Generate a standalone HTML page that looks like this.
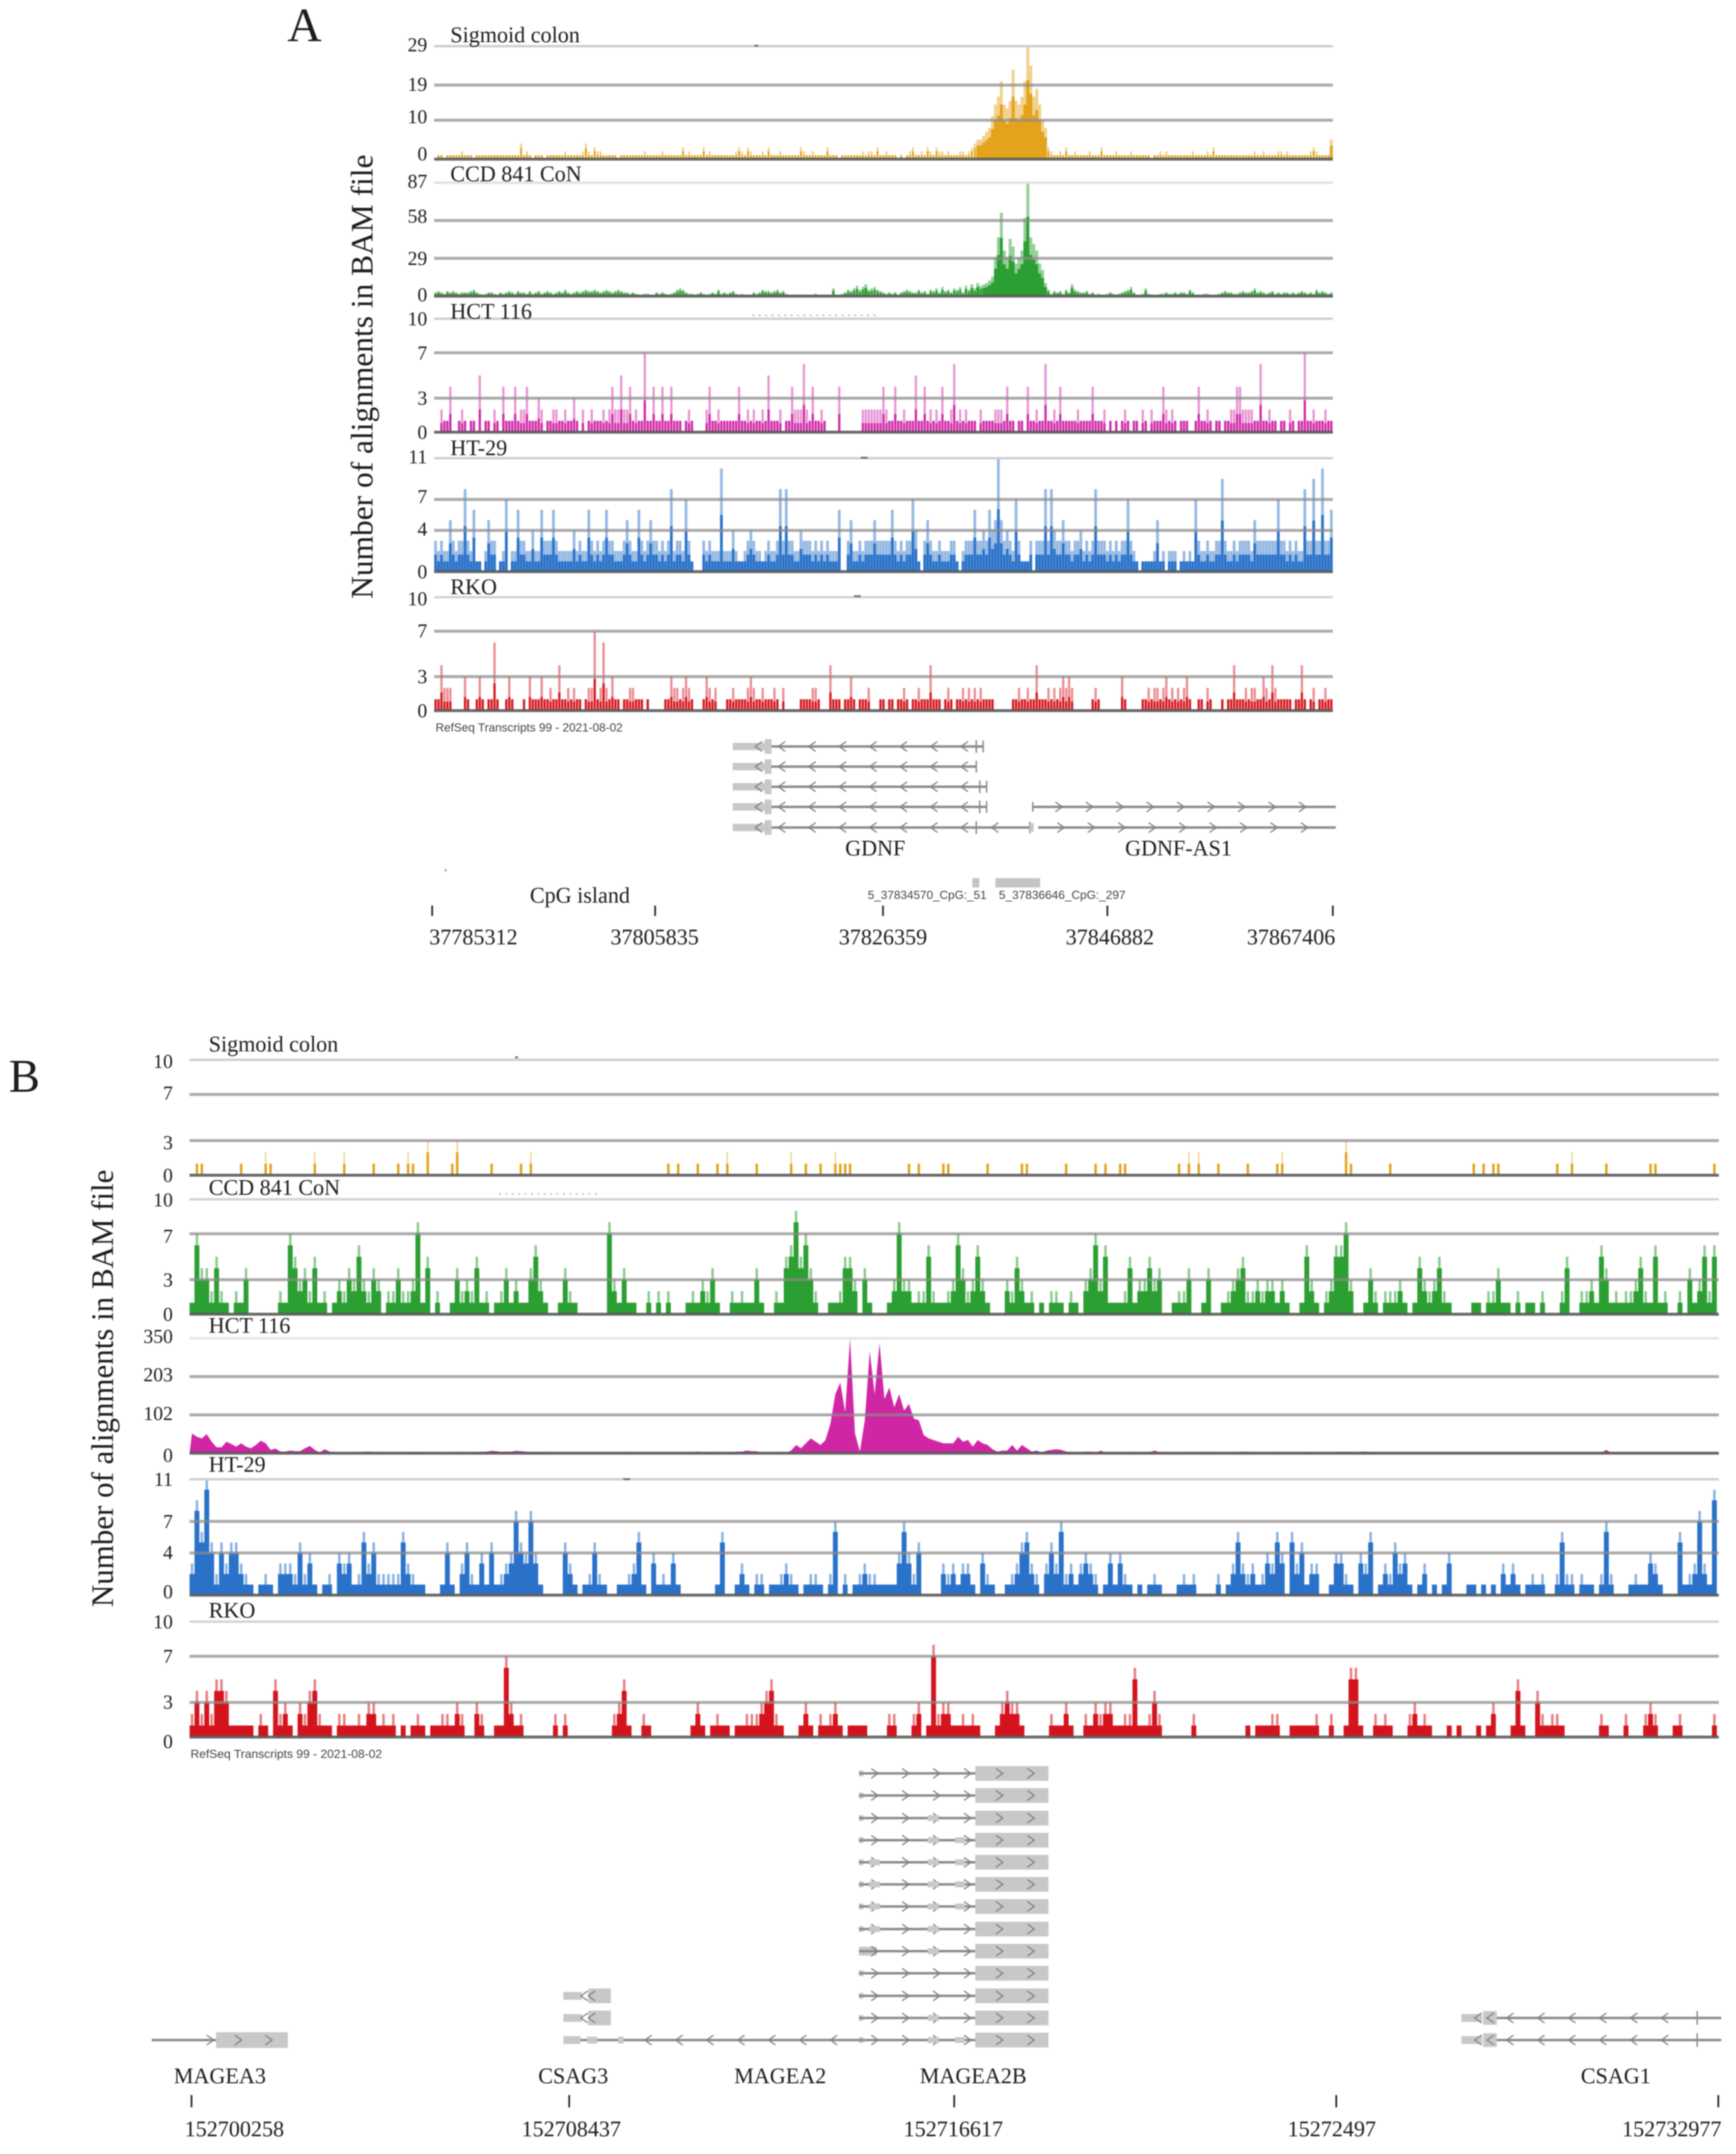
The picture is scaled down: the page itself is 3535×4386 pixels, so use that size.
<!DOCTYPE html>
<html lang="en">
<head>
<meta charset="utf-8">
<title>BAM alignment coverage at GDNF and MAGEA2 loci</title>
<style>
html,body{margin:0;padding:0;background:#fff;}
#figure{display:block;width:3535px;height:4386px;filter:blur(1.4px);background:#fff;}
text{font-family:"Liberation Serif",serif;fill:#1c1c1c;}
.sans{font-family:"Liberation Sans",sans-serif;fill:#444;}
</style>
</head>
<body>
<svg id="figure" xmlns="http://www.w3.org/2000/svg" width="3535" height="4386" viewBox="0 0 3535 4386">
  <text x="585" y="84" font-size="97">A</text>
  <text x="18" y="2223" font-size="95">B</text>
  <text x="737" y="767" font-size="64" text-anchor="middle" dominant-baseline="central" transform="rotate(-90 737 767)">Number of alignments in BAM file</text>
  <text x="209" y="2827" font-size="63" text-anchor="middle" dominant-baseline="central" transform="rotate(-90 209 2827)">Number of alignments in BAM file</text>
  <text class="sans" x="887" y="1482" font-size="24" dominant-baseline="central" textLength="381" lengthAdjust="spacingAndGlyphs">RefSeq Transcripts 99 - 2021-08-02</text>
  <text class="sans" x="388" y="3572" font-size="24" dominant-baseline="central" textLength="390" lengthAdjust="spacingAndGlyphs">RefSeq Transcripts 99 - 2021-08-02</text>
  <text x="1721" y="1727" font-size="45" dominant-baseline="central">GDNF</text>
  <text x="2291" y="1727" font-size="45" dominant-baseline="central">GDNF-AS1</text>
  <text x="1079" y="1823" font-size="45" dominant-baseline="central">CpG island</text>
  <rect x="1980" y="1788" width="14" height="19" fill="#c4c4c4"/>
  <rect x="2027" y="1788" width="91" height="19" fill="#c4c4c4"/>
  <text class="sans" x="1767" y="1823" font-size="24" dominant-baseline="central" textLength="242" lengthAdjust="spacingAndGlyphs">5_37834570_CpG:_51</text>
  <text class="sans" x="2034" y="1823" font-size="24" dominant-baseline="central" textLength="258" lengthAdjust="spacingAndGlyphs">5_37836646_CpG:_297</text>
  <text x="354" y="4227" font-size="45" dominant-baseline="central">MAGEA3</text>
  <text x="1096" y="4227" font-size="45" dominant-baseline="central">CSAG3</text>
  <text x="1495" y="4227" font-size="45" dominant-baseline="central">MAGEA2</text>
  <text x="1873" y="4227" font-size="45" dominant-baseline="central">MAGEA2B</text>
  <text x="3219" y="4227" font-size="45" dominant-baseline="central">CSAG1</text>
  <g id="tracks"></g>
  <g id="genes"></g>
  <g id="coords"></g>
</svg>
<script>
// ---------- Panel A data (one value per genomic bin) ----------
const sigmoidAValues = [
0,1,1,0,1,1,1,1,1,2, 1,1,1,0,1,1,1,1,1,1, 1,1,1,1,1,1,1,1,1,4, 1,2,1,0,1,1,1,0,1,1,
1,1,1,1,2,1,1,1,1,1, 2,4,2,1,3,2,2,1,1,1, 1,1,0,1,1,1,1,1,1,1, 1,2,1,1,1,1,1,2,1,1,
1,1,1,1,3,1,2,1,1,1, 1,3,1,2,1,1,1,1,1,1, 1,1,2,3,2,1,3,2,1,1, 1,2,1,3,1,1,1,2,1,1,
1,1,1,1,3,2,1,1,2,1, 1,1,1,3,1,1,1,0,1,1, 1,1,1,1,1,2,1,2,2,1, 3,1,1,2,1,1,1,0,1,0,
1,2,3,1,1,2,1,3,2,1, 3,2,2,1,2,1,1,1,2,2, 1,2,3,4,5,5,6,7,8,11, 14,16,20,14,13,15,23,15,14,16,
20,29,24,16,18,14,10,8,3,2, 1,1,2,1,3,1,1,2,1,1, 1,1,2,1,1,1,3,1,1,1, 1,2,1,1,1,1,2,1,1,1,
1,1,1,0,1,1,2,1,2,1, 1,1,1,1,1,1,1,2,1,1, 1,1,2,1,3,1,1,1,1,1, 1,1,1,1,1,1,1,1,2,1,
1,2,1,1,1,1,2,2,1,2, 1,1,1,1,1,1,1,2,3,2, 1,1,1,1,5];
const ccdAValues = [
3,4,3,2,4,3,4,3,2,3, 3,3,4,5,3,2,1,2,3,3, 2,1,3,2,3,4,3,2,4,3, 3,2,4,2,3,4,2,3,4,3,
2,3,4,3,5,3,2,3,4,3, 4,5,4,4,5,4,3,4,5,4, 3,4,5,4,3,3,2,3,2,1, 1,2,2,1,1,3,2,3,2,1,
2,3,5,6,5,3,2,2,1,2, 3,2,1,2,3,2,5,2,3,2, 3,4,2,1,2,1,1,1,3,2, 3,5,4,4,3,4,5,3,4,2,
1,1,1,1,1,1,1,1,1,2, 1,1,1,1,1,6,1,1,2,3, 5,4,6,8,5,7,9,5,6,7, 5,4,3,2,3,2,3,1,3,4,
5,4,3,3,5,3,4,2,5,4, 6,3,7,4,5,3,6,5,7,3, 8,5,9,6,10,8,9,10,12,15, 30,45,64,35,30,44,38,25,30,35,
60,87,45,40,35,25,20,10,5,2, 4,3,4,2,5,3,9,5,4,3, 3,4,2,3,1,2,1,1,2,3, 2,1,2,3,4,5,7,3,1,0,
2,6,2,1,0,1,2,2,3,2, 2,3,2,3,3,2,5,3,1,1, 1,2,2,1,0,1,2,3,4,3, 3,2,2,3,4,3,3,4,6,3,
4,3,2,3,4,2,3,2,3,3, 2,3,2,3,4,3,2,3,2,5, 3,4,3,2,3];
const hctAValues = [
0,0,2,1,1,4,0,0,1,2, 1,0,1,1,0,5,0,1,1,0, 2,1,0,4,1,1,1,4,1,2, 2,4,1,1,1,3,2,0,1,1,
2,2,1,1,2,1,1,3,1,0, 2,0,1,2,1,1,1,2,1,2, 4,2,2,5,2,2,4,1,2,1, 1,7,1,1,4,1,1,4,1,1,
4,1,1,1,0,1,2,1,0,0, 0,0,2,4,1,1,2,1,1,1, 1,1,1,4,1,1,2,1,2,1, 1,2,1,5,1,1,1,2,0,1,
1,4,2,2,2,6,2,1,4,1, 1,2,1,0,0,0,0,4,0,0, 0,0,0,0,0,2,2,2,2,2, 2,2,4,2,1,1,4,1,1,2,
1,1,1,5,1,1,4,1,2,1, 2,1,4,1,1,2,6,1,2,1, 2,1,1,1,0,2,1,1,1,1, 2,2,2,1,4,1,1,0,1,1,
0,4,1,1,2,1,1,6,1,1, 2,1,4,1,1,1,1,1,2,1, 1,1,1,4,1,1,1,2,0,1, 0,1,0,1,2,1,0,1,1,0,
2,1,0,2,1,1,1,4,2,1, 2,1,0,1,1,1,0,0,1,4, 1,1,2,1,0,1,1,0,1,1, 2,2,4,4,2,2,2,2,1,1,
6,1,1,2,1,1,0,1,1,0, 2,1,0,1,1,7,1,1,2,1, 1,1,2,1,1];
const htAValues = [
3,2,3,2,2,5,3,2,3,3, 8,3,2,6,1,1,0,2,5,3, 3,0,1,2,7,0,2,2,6,3, 3,2,2,4,2,2,6,3,3,3,
6,3,2,2,2,2,2,4,2,3, 2,2,6,3,2,3,2,3,6,3, 3,2,2,2,3,5,3,2,2,6, 3,2,3,5,3,3,2,3,2,3,
8,2,3,3,2,7,3,1,0,0, 0,3,2,3,2,2,2,10,2,2, 2,4,2,1,1,2,3,4,3,2, 2,1,2,3,2,2,3,8,3,8,
3,3,2,2,4,3,3,3,2,3, 2,3,2,3,2,2,2,6,0,0, 3,5,2,2,3,2,3,3,3,5, 3,3,3,3,3,6,3,2,3,2,
3,3,7,4,1,0,3,5,3,2, 2,3,2,2,2,3,3,1,0,2, 3,3,3,6,3,3,4,3,6,4, 5,11,5,3,4,3,2,7,3,1,
1,1,3,0,3,3,3,8,3,8, 4,3,3,5,3,3,2,3,3,4, 2,3,2,3,8,3,3,3,2,3, 2,3,2,3,3,7,3,2,1,0,
1,1,1,1,2,5,1,2,0,2, 2,2,0,1,2,1,2,1,7,3, 2,2,3,2,2,3,3,9,3,2, 2,3,2,3,3,3,3,2,5,3,
3,3,3,3,3,3,7,3,3,2, 3,2,3,2,2,8,3,3,9,3, 3,10,3,3,6];
const rkoAValues = [
1,1,4,2,2,2,0,0,0,0, 3,1,0,0,1,3,1,0,1,1, 6,1,0,0,1,3,1,0,0,0, 1,0,3,1,1,1,3,1,1,2,
1,1,4,1,1,2,1,2,1,1, 0,1,2,2,7,1,2,6,2,1, 3,1,1,0,1,1,2,2,1,1, 1,0,1,0,0,0,0,0,1,1,
3,2,2,1,2,3,2,1,0,0, 0,1,3,2,1,2,0,0,0,1, 1,2,1,1,1,1,2,3,2,1, 1,2,1,1,1,2,1,0,2,0,
0,0,0,0,1,1,1,1,2,2, 1,0,0,0,4,1,1,1,0,1, 1,3,1,0,1,1,1,2,0,0, 0,1,1,0,1,1,0,1,1,2,
1,0,1,1,2,1,1,1,4,1, 1,1,0,1,2,1,0,1,1,2, 1,2,1,2,1,2,1,1,1,1, 0,0,0,0,0,0,1,1,2,1,
1,2,1,1,4,1,1,1,2,1, 2,1,2,3,2,3,2,0,0,0, 0,0,0,1,2,1,0,0,0,0, 0,0,0,3,1,0,0,0,0,0,
1,1,2,1,2,2,1,2,3,1, 2,1,2,1,2,3,1,0,0,1, 1,0,2,1,0,0,0,1,0,1, 1,4,1,1,1,2,1,2,2,1,
1,3,2,1,4,2,1,1,1,1, 1,0,1,1,4,1,0,1,2,0, 1,1,2,1,1];

// ---------- Panel B data (one value per genomic bin) ----------
const sigmoidBValues = [
0,1,1,0,0,0,0,0,0,0, 1,0,0,0,0,2,1,0,0,0, 0,0,0,0,0,2,0,0,0,0, 0,2,0,0,0,0,0,1,0,0,
0,0,1,0,2,1,0,0,3,0, 0,0,0,1,3,0,0,0,0,0, 0,1,0,0,0,0,0,1,0,2, 0,0,0,0,0,0,0,0,0,0,
0,0,0,0,0,0,0,0,0,0, 0,0,0,0,0,0,0,1,0,1, 0,0,0,1,0,0,0,1,0,2, 0,0,0,0,0,1,0,0,0,0,
0,0,2,0,0,1,0,0,1,0, 0,2,1,1,1,0,0,0,0,0, 0,0,0,0,0,0,1,0,1,0, 0,0,0,1,1,0,0,0,0,0,
0,0,1,0,0,0,0,0,0,1, 1,0,0,0,0,0,0,0,1,0, 0,0,0,0,1,0,1,0,0,1, 1,0,0,0,0,0,0,0,0,0,
0,1,0,2,0,2,0,0,0,1, 0,0,0,0,0,1,0,0,0,0, 0,1,2,0,0,0,0,0,0,0, 0,0,0,0,0,3,1,0,0,0,
0,0,0,0,1,0,0,0,0,0, 0,0,0,0,0,0,0,0,0,0, 0,1,0,1,0,1,1,0,0,0, 0,0,0,0,0,0,0,0,1,0,
0,2,0,0,0,0,0,0,1,0, 0,0,0,0,0,0,0,1,1,0, 0,0,0,0,0,0,0,0,0,0,1];
const ccdBValues = [
1,7,4,4,2,5,2,1,0,2, 1,4,0,0,0,0,0,0,2,1, 7,5,3,4,2,5,1,2,0,1, 3,2,4,3,6,3,2,4,3,0,
2,2,4,2,2,3,8,1,5,0, 2,0,0,1,4,2,3,2,5,1, 2,0,1,2,4,1,3,1,1,4, 6,3,1,0,0,1,4,2,1,0,
0,0,0,0,0,8,3,1,4,1, 1,0,0,2,0,2,0,2,0,0, 0,1,2,1,3,2,4,1,0,0, 2,1,2,1,1,4,1,0,0,2,
1,5,6,9,5,7,4,2,0,0, 1,1,2,5,5,3,0,4,1,0, 0,0,1,3,8,3,3,1,2,2, 6,2,1,1,2,3,7,4,2,3,
6,3,1,0,0,0,3,2,5,3, 1,2,0,1,0,2,2,1,0,2, 1,0,3,4,7,3,6,1,1,1, 2,5,1,3,3,5,3,4,0,0,
1,2,2,4,0,0,1,4,0,0, 1,2,3,4,5,2,2,3,2,3, 3,1,3,1,0,0,1,6,3,1, 0,2,3,6,6,8,3,0,0,1,
4,2,0,2,2,2,3,1,0,1, 5,3,2,3,5,2,1,0,0,0, 0,1,1,0,2,2,4,1,1,0, 2,0,1,1,0,2,0,0,0,2,
5,0,0,2,2,3,1,6,4,1, 2,1,2,2,3,5,2,1,6,1, 2,0,0,2,0,4,1,3,6,2,6];
const hctBValues = [
60,50,45,58,35,18,18,35,28,20, 30,20,15,25,38,30,10,14,5,5, 8,6,6,15,22,10,2,12,5,0,
0,0,0,0,1,4,5,2,3,1, 2,1,0,1,2,2,2,3,1,1, 0,0,0,1,2,2,1,2,3,4, 5,7,6,4,5,5,7,6,5,2,
3,2,2,2,1,1,1,2,1,1, 1,1,1,1,1,1,1,1,1,3, 1,1,1,1,1,1,1,1,1,1, 1,1,
3,5,2,2,2,2,1,1,3,5, 5,8,6,6,1,0,0,1,3,1, 8,25,15,30,45,35,25,40,90,180,
215,125,350,60,5,100,310,180,335,165, 200,140,180,130,150,105,100,55,45,40,
35,30,30,30,50,35,40,20,40,30, 25,12,5,8,8,25,8,25,15,5, 8,2,8,10,12,10,5,3,0,0,
5,5,0,8,2,0,0,1,1,1, 3,1,1,3,8,3,0,0,0,0, 0,1,1,1,1,4,1,1,1,1,1, 3,5,4,2,1,1,1,1,3,
1,1,0,1,1,4,1,1,1,1,1, 2,4,4,3,1,5,5,3,
1,1,1,1,1,1,1,1,1,1, 1,1,1,1,1,1,1,1,1,1, 1,1,1,1,1,1,1,1,1,1, 1,1,1,1,1,1,1,1,1,1, 1,1,1,1,1,1,1,
10, 1,1,1,1,1,1,1,1,1,1, 1,1,1,1,1,1,1,1,1,1, 1,1];
const htBValues = [
3,9,6,11,5,2,5,3,5,5, 3,2,1,0,1,2,1,0,3,3, 3,2,5,2,4,1,0,1,2,0, 4,3,4,1,2,6,3,5,2,2,
2,2,2,6,3,2,1,1,0,0, 0,1,5,1,0,3,5,2,1,4, 1,5,1,2,3,4,8,5,4,8, 4,1,0,0,0,0,5,3,1,0,
1,2,5,2,1,0,0,1,1,2, 3,6,1,0,4,1,2,1,4,1, 0,0,0,0,0,0,0,1,6,0, 0,1,3,1,0,2,2,0,1,1,
2,3,2,1,0,1,2,2,1,0, 2,7,0,2,0,1,2,3,2,2, 1,1,1,1,4,7,4,2,5,0, 0,0,0,3,2,3,
1,3,3,1,0,4,2,1,0,0, 1,2,3,5,6,3,2,0,3,5, 3,7,2,3,1,3,4,3,2,0, 1,4,1,4,2,1,0,1,0,1,
2,1,0,0,0,1,2,1,2,0, 0,0,0,2,0,1,3,6,3,2, 3,1,2,4,3,6,4,0,6,3, 5,1,3,3,0,0,1,4,4,2,
1,0,4,3,6,0,1,3,2,5, 3,4,1,0,1,3,0,1,0,1, 4,0,0,0,1,1,0,1,0,1, 0,3,1,3,1,0,1,2,1,2,
0,0,2,6,2,2,0,2,1,1, 0,2,7,2,0,0,0,1,2,1, 1,4,3,1,0,0,0,6,1,2, 3,8,3,1,10];
const rkoBValues = [
2,4,2,4,2,5,5,4,1,1, 1,1,1,0,2,1,0,5,2,3, 1,0,3,2,4,5,2,1,1,0, 2,2,1,1,2,1,3,3,1,2,
1,2,0,1,0,1,2,1,0,1, 1,2,2,1,3,2,0,0,3,2, 0,0,1,1,7,3,1,2,0,0, 0,0,0,0,2,0,2,0,0,0,
0,0,0,0,0,0,2,3,5,1, 0,0,2,1,0,0,0,0,0,0, 0,0,1,3,1,0,1,2,1,1, 0,1,1,2,2,2,3,4,5,2,
1,0,0,0,1,3,1,0,2,1, 2,3,1,0,1,1,1,1,0,0, 0,0,2,2,0,0,0,2,3,0, 1,8,2,3,3,1,
1,2,1,2,1,0,0,0,1,3, 4,3,3,1,0,0,0,0,0,2, 1,1,3,1,0,0,2,1,3,2, 3,3,1,1,2,2,6,1,1,2,
4,2,0,0,0,0,0,0,2,0, 0,0,0,0,0,0,0,0,0,1, 0,1,1,1,2,2,0,0,1,1, 1,1,1,2,0,0,2,0,0,1,
6,6,1,0,0,2,1,2,1,0, 0,0,2,3,1,2,1,0,0,0, 1,0,1,0,0,0,1,0,1,3, 0,0,0,1,5,1,0,0,4,2,
1,2,2,1,0,0,0,0,0,0, 0,2,1,0,0,0,2,0,0,0, 2,3,2,0,0,0,1,2,0,0, 0,0,0,0,2];

// ---------- Axis tick values and labels ----------
const sigmoidATicks = [29, 19, 10, 0];
const ccdATicks = [87, 58, 29, 0];
const hctATicks = [10, 7, 3, 0];
const htATicks = [11, 7, 4, 0];
const rkoATicks = [10, 7, 3, 0];
const sigmoidBTicks = [10, 7, 3, 0];
const ccdBTicks = [10, 7, 3, 0];
const hctBTicks = [350, 203, 102, 0];
const htBTicks = [11, 7, 4, 0];
const rkoBTicks = [10, 7, 3, 0];
const coordLabelsA = ['37785312', '37805835', '37826359', '37846882', '37867406'];
const coordLabelsB = ['152700258', '152708437', '152716617', '15272497', '152732977'];

// ---------- Layout (pixels and styles, separate from the data) ----------
const NS = 'http://www.w3.org/2000/svg';
const panelA = { x0: 884, x1: 2714, bin: 6, labelRight: 870, nameX: 917 };
const panelB = { x0: 386, x1: 3500, bin: 10, labelRight: 352, nameX: 425 };
const GOLD = '#e3a31c', GREEN = '#2c9f33', MAGENTA = '#d026a6', BLUE = '#2a72c9', RED = '#d3141d';
const tracks = [
  { key:'sigmoid-a', name:'Sigmoid colon', panel:panelA, top:94, base:324, values:sigmoidAValues, ticks:sigmoidATicks, color:GOLD, barW:4, wideFrom:5, frac:.3, tipW:1, tipO:.5, nameY:71, labelDy:[-3,-2,-7,-11], topLine:'#cfcfcf' },
  { key:'ccd-a', name:'CCD 841 CoN', panel:panelA, top:372, base:603, values:ccdAValues, ticks:ccdATicks, color:GREEN, barW:5, wideFrom:9, frac:.3, tipW:1, tipO:.5, nameY:354, labelDy:[-3,-9,0,-3], topLine:'#e2e2e2' },
  { key:'hct-a', name:'HCT 116', panel:panelA, top:649, base:880, values:hctAValues, ticks:hctATicks, color:MAGENTA, barW:4.5, wideFrom:99, frac:.6, tipW:1, tipO:.5, nameY:634, labelDy:[0,0,0,0], topLine:'#cfcfcf' },
  { key:'ht-a', name:'HT-29', panel:panelA, top:933, base:1164, values:htAValues, ticks:htATicks, color:BLUE, barW:5.5, wideFrom:99, frac:.45, tipW:1, tipO:.5, nameY:912, labelDy:[-3,-6,-3,0], topLine:'#cfcfcf' },
  { key:'rko-a', name:'RKO', panel:panelA, top:1216, base:1447, values:rkoAValues, ticks:rkoATicks, color:RED, barW:4.5, wideFrom:99, frac:.6, tipW:1, tipO:.5, nameY:1195, labelDy:[3,-1,0,0], topLine:'#d4d4d4' },
  { key:'sigmoid-b', name:'Sigmoid colon', panel:panelB, top:2158, base:2393, values:sigmoidBValues, ticks:sigmoidBTicks, color:GOLD, barW:5, wideFrom:99, frac:0, tipW:.5, tipO:.55, nameY:2126, labelDy:[3,-3,4,0], topLine:'#cfcfcf' },
  { key:'ccd-b', name:'CCD 841 CoN', panel:panelB, top:2442, base:2676, values:ccdBValues, ticks:ccdBTicks, color:GREEN, barW:10, wideFrom:99, frac:0, tipW:.5, tipO:.55, nameY:2418, labelDy:[1,5,0,0], topLine:'#d4d4d4' },
  { key:'hct-b', name:'HCT 116', panel:panelB, top:2725, base:2959, values:hctBValues, ticks:hctBTicks, tickFrac:[1, 2/3, 1/3, 0], color:MAGENTA, area:true, nameY:2699, labelDy:[-4,-4,-3,4], topLine:'#e4e4e4' },
  { key:'ht-b', name:'HT-29', panel:panelB, top:3012, base:3248, values:htBValues, ticks:htBTicks, color:BLUE, barW:10, wideFrom:99, frac:0, tipW:.5, tipO:.55, nameY:2982, labelDy:[0,0,-1,-7], topLine:'#cfcfcf' },
  { key:'rko-b', name:'RKO', panel:panelB, top:3302, base:3537, values:rkoBValues, ticks:rkoBTicks, color:RED, barW:10, wideFrom:99, frac:0, tipW:.5, tipO:.55, nameY:3279, labelDy:[0,0,-1,9], topLine:'#d4d4d4' }
];

function yScale(track, v) {
  const max = Math.max.apply(null, track.ticks);
  return track.base - v * (track.base - track.top) / max;
}
function gridY(track, idx) {
  if (track.tickFrac) return track.base - track.tickFrac[idx] * (track.base - track.top);
  return yScale(track, track.ticks[idx]);
}
function xBin(track, i) {
  return track.panel.x0 + i * track.panel.bin;
}
function make(tag, attrs, parent) {
  const el = document.createElementNS(NS, tag);
  for (const k in attrs) el.setAttribute(k, attrs[k]);
  parent.appendChild(el);
  return el;
}

const tracksRoot = document.getElementById('tracks');
tracks.forEach(function (t) {
  const g = make('g', {}, tracksRoot);
  
  

  if (t.area) {
    let d = 'M' + xBin(t, 0) + ' ' + t.base;
    t.values.forEach(function (v, i) {
      d += 'L' + (xBin(t, i) + t.panel.bin / 2) + ' ' + yScale(t, v).toFixed(1);
    });
    d += 'L' + xBin(t, t.values.length) + ' ' + t.base + 'Z';
    const area = make('path', { d: d, fill: t.color }, g);
    
    
  } else {
    t.values.forEach(function (v, i) {
      if (v <= 0) return;
      const bin = t.panel.bin;
      const w = v >= t.wideFrom ? bin : t.barW;
      const x = xBin(t, i) + (bin - w) / 2;
      const taper = Math.max(1, v * t.frac);
      const solid = v <= 1 ? v : v - taper;
      const tw = w * t.tipW;
      const spike = make('rect', { x: x + (w - tw) / 2, y: yScale(t, v), width: tw, height: t.base - yScale(t, v), fill: t.color, opacity: t.tipO }, g);
      
      
      const bar = make('rect', { x: x, y: yScale(t, solid), width: w, height: t.base - yScale(t, solid), fill: t.color }, g);
      
      
    });
  }

  t.ticks.forEach(function (tick, idx) {
    const y = gridY(t, idx);
    const isTop = idx === 0, isBase = tick === 0;
    const line = make('line', {
      x1: t.panel.x0, x2: t.panel.x1, y1: y, y2: y,
      stroke: isBase ? '#5a5a5a' : (isTop ? t.topLine : '#8a8a8a'),
      'stroke-width': isBase ? 6 : (isTop ? 5 : 6),
      opacity: isBase ? .9 : (isTop ? 1 : .72)
    }, g);
    
    
    const label = make('text', {
      x: t.panel.labelRight, y: y + t.labelDy[idx], 'font-size': 40,
      'text-anchor': 'end', 'dominant-baseline': 'central'
    }, g);
    label.textContent = String(tick);
    
    
  });

  const name = make('text', { x: t.panel.nameX, y: t.nameY, 'font-size': 45, 'dominant-baseline': 'central' }, g);
  name.textContent = t.name;
  
  
});

// ---------- Gene models ----------
const genesRoot = document.getElementById('genes');
const GENE_LINE = '#8c8c8c', GENE_BOX = '#c8c8c8';
function hline(x1, x2, y) {
  const el = make('line', { x1: x1, x2: x2, y1: y, y2: y, stroke: GENE_LINE, 'stroke-width': 5 }, genesRoot);
  
  
}
function box(x1, x2, y, h) {
  const el = make('rect', { x: x1, y: y - h / 2, width: x2 - x1, height: h, fill: GENE_BOX }, genesRoot);
  
  
}
function vtick(x, y, h) {
  const el = make('line', { x1: x, x2: x, y1: y - h / 2, y2: y + h / 2, stroke: GENE_LINE, 'stroke-width': 3 }, genesRoot);
  
  
}
function chevrons(from, to, step, y, dir) {
  for (let x = from; x <= to + .1; x += step) {
    const el = make('polyline', {
      points: (x - dir * 7) + ',' + (y - 10) + ' ' + (x + dir * 7) + ',' + y + ' ' + (x - dir * 7) + ',' + (y + 10),
      fill: 'none', stroke: '#808080', 'stroke-width': 2.6
    }, genesRoot);
    
    
  }
}
// GDNF / GDNF-AS1
[[1520, 2002, 1988], [1561, 1988, 0], [1602, 2009, 1995], [1643, 2009, 1995], [1685, 2097, 1988]].forEach(function (r) {
  box(1492, 1560, r[0], 15);
  box(1557, 1571, r[0], 30);
  chevrons(1545, 1545, 60, r[0], -1);
  hline(1571, r[1], r[0]);
  chevrons(1592, r[1] > 2050 ? 2060 : 1965, 62, r[0], -1);
  if (r[2]) vtick(r[2], r[0], 26);
  vtick(r[1], r[0], 24);
});
hline(2103, 2720, 1643);
chevrons(2156, 2670, 62, 1643, 1);
vtick(2103, 1643, 20);
box(2097, 2105, 1685, 18);
hline(2114, 2720, 1685);
chevrons(2160, 2670, 62, 1685, 1);
// MAGEA2B family
[3611, 3656, 3702, 3747, 3792, 3837, 3882, 3928, 3973, 4018, 4064, 4109, 4154].forEach(function (y, row) {
  box(1749, row === 8 ? 1785 : 1758, y, row === 8 ? 18 : 12);
  hline(1749, 1986, y);
  chevrons(1781, 1972, 63, y, 1);
  if (row >= 4 && row <= 7) box(1770, 1792, y, 12);
  if ((row >= 2 && row <= 8) || row >= 11) box(1889, 1912, y, 12);
  if ((row >= 3 && row <= 6) || row === 12) box(1945, 1965, y, 12);
  box(1986, 2135, y, 30);
  chevrons(2035, 2099, 64, y, 1);
});
// MAGEA3
hline(309, 440, 4154);
chevrons(428, 428, 60, 4154, 1);
box(440, 586, 4154, 32);
chevrons(485, 547, 62, 4154, 1);
// CSAG3
[4064, 4109].forEach(function (y) {
  box(1147, 1185, y, 16);
  chevrons(1190, 1190, 60, y, -1);
  box(1198, 1244, y, 30);
  chevrons(1205, 1205, 60, y, -1);
});
box(1147, 1182, 4154, 16);
hline(1182, 1749, 4154);
box(1196, 1216, 4154, 14);
box(1258, 1270, 4154, 14);
chevrons(1320, 1700, 63, 4154, -1);
// CSAG1
[4109, 4154].forEach(function (y) {
  box(2976, 3018, y, 16);
  box(3020, 3048, y, 28);
  chevrons(3010, 3035, 25, y, -1);
  hline(3048, 3505, y);
  chevrons(3075, 3425, 63, y, -1);
  vtick(3456, y, 28);
});

// ---------- Genomic coordinate axes ----------
const coordsRoot = document.getElementById('coords');
const axisA = { tickX: [880, 1334, 1798, 2255, 2714], y1: 1844, y2: 1865, labelY: 1908, labelLeft: [874, 1243, 1708, 2170, 2539] };
const axisB = { tickX: [390, 1159, 1943, 2721, 3499], y1: 4266, y2: 4291, labelY: 4335, labelLeft: [376, 1062, 1840, 2622, 3303] };
function drawCoords(labels, axis, prefix) {
  labels.forEach(function (label, i) {
    const x = axis.tickX[i];
    const tick = make('line', { x1: x, x2: x, y1: axis.y1, y2: axis.y2, stroke: '#222', 'stroke-width': 3.5 }, coordsRoot);
    
    
    const text = make('text', { x: axis.labelLeft[i], y: axis.labelY, 'font-size': 45, 'dominant-baseline': 'central' }, coordsRoot);
    text.textContent = label;
    
    
  });
}
drawCoords(coordLabelsA, axisA, 'panel-a');
drawCoords(coordLabelsB, axisB, 'panel-b');

// ---------- Small read-fragment specks above tracks ----------
[[1536, 91, 8], [1753, 930, 14], [1739, 1212, 14], [1049, 2151, 6], [1269, 3010, 14], [906, 1770, 3]].forEach(function (s) {
  const el = make('rect', { x: s[0], y: s[1], width: s[2], height: 4, fill: '#777' }, tracksRoot);
  
  
});
[[1532, 642, 252], [1016, 2431, 207]].forEach(function (s) {
  const el = make('line', { x1: s[0], x2: s[0] + s[2], y1: s[1], y2: s[1], stroke: '#bbb', 'stroke-width': 3, 'stroke-dasharray': '4 9' }, tracksRoot);
  
  
});
</script>
</body>
</html>
